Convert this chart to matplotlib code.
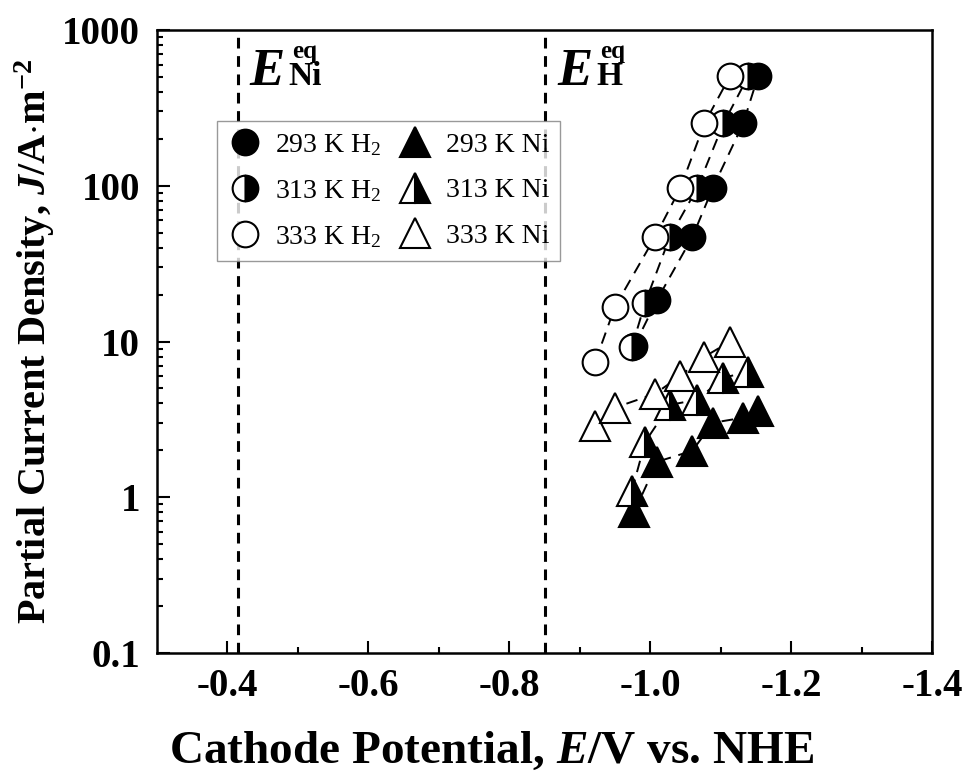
import matplotlib
matplotlib.use('Agg')
import matplotlib.pyplot as plt
from matplotlib.lines import Line2D
from matplotlib.ticker import LogLocator, NullFormatter

plt.rcParams['font.family'] = 'Liberation Serif'
plt.rcParams['mathtext.fontset'] = 'custom'
plt.rcParams['mathtext.rm'] = 'Liberation Serif'
plt.rcParams['mathtext.it'] = 'Liberation Serif:italic'
plt.rcParams['mathtext.bf'] = 'Liberation Serif:bold'
plt.rcParams['mathtext.bfit'] = 'Liberation Serif:italic:bold'

# cathode potential, V vs. NHE
e_293 = [-0.977, -1.010, -1.060, -1.089, -1.132, -1.153]
e_313 = [-0.974, -0.993, -1.028, -1.067, -1.104, -1.139]
e_333 = [-0.922, -0.950, -1.007, -1.043, -1.077, -1.113]

# partial current densities, A/m2
j_h2_293 = [9.3, 18.6, 47, 97, 251, 503]
j_h2_313 = [9.2, 17.8, 47, 97, 251, 503]
j_h2_333 = [7.4, 16.7, 47, 97, 251, 503]
j_ni_293 = [0.80, 1.69, 1.99, 3.01, 3.24, 3.59]
j_ni_313 = [1.10, 2.27, 3.92, 4.23, 5.85, 6.40]
j_ni_333 = [2.88, 3.76, 4.62, 6.03, 7.98, 9.97]

# equilibrium potentials
e_eq_ni = -0.415
e_eq_h = -0.851

temps = ['293 K', '313 K', '333 K']
fills = [dict(fillstyle='full', markerfacecolor='black'),
         dict(fillstyle='right', markerfacecolor='black', markerfacecoloralt='white'),
         dict(fillstyle='full', markerfacecolor='white')]

fig = plt.figure(figsize=(9.66, 7.73), dpi=100)
ax = fig.add_axes([0.1625, 0.1552, 0.8023, 0.806])

line_kw = dict(color='black', ls=(0, (6, 4)), lw=1.4, markeredgecolor='black', markeredgewidth=1.5)

for e, j, f in zip([e_293, e_313, e_333], [j_h2_293, j_h2_313, j_h2_333], fills):
    ax.plot(e, j, marker='o', ms=18.5, **f, **line_kw)
for e, j, f in zip([e_293, e_313, e_333], [j_ni_293, j_ni_313, j_ni_333], fills):
    ax.plot(e, j, marker='^', ms=22, **f, **line_kw)

ax.axvline(e_eq_ni, color='black', ls=(0, (3.5, 2.5)), lw=2.2, zorder=1)
ax.axvline(e_eq_h, color='black', ls=(0, (3.5, 2.5)), lw=2.2, zorder=1)

# E^eq labels: italic E with stacked subscript and superscript
for x0, sub in [(-0.431, 'Ni'), (-0.868, 'H')]:
    ax.text(x0, 441, 'E', fontsize=38, fontweight='bold', fontstyle='italic', va='baseline', ha='left')
    ax.annotate(sub, xy=(x0, 441), xytext=(28, 0), textcoords='offset points',
                fontsize=24, fontweight='bold', va='baseline', ha='left')
    ax.annotate('eq', xy=(x0, 441), xytext=(31, 20), textcoords='offset points',
                fontsize=18, fontweight='bold', va='baseline', ha='left')

ax.set_xlim(-0.3, -1.4)
ax.set_xticks([-0.4, -0.6, -0.8, -1.0, -1.2, -1.4])
ax.set_xticklabels([f'{v:.1f}' for v in [-0.4, -0.6, -0.8, -1.0, -1.2, -1.4]])
ax.set_xticks([-0.5, -0.7, -0.9, -1.1, -1.3], minor=True)

ax.set_yscale('log')
ax.set_ylim(0.1, 1000)
ax.set_yticks([0.1, 1, 10, 100, 1000])
ax.set_yticklabels(['0.1', '1', '10', '100', '1000'])
ax.yaxis.set_minor_locator(LogLocator(base=10, subs=range(2, 10)))
ax.yaxis.set_minor_formatter(NullFormatter())

ax.tick_params(which='both', direction='in', top=False, right=False, width=1.5)
ax.tick_params(which='major', length=9, labelsize=28)
ax.tick_params(axis='x', which='major', pad=11)
ax.tick_params(axis='y', which='major', pad=12)
ax.tick_params(which='minor', length=4.5)
for lab in ax.get_xticklabels() + ax.get_yticklabels():
    lab.set_fontweight('bold')
for sp in ax.spines.values():
    sp.set_linewidth(1.8)

ax.set_xlabel(r'Cathode Potential, $\mathbfit{E}$/V vs. NHE', fontsize=34, fontweight='bold')
ax.xaxis.set_label_coords(0.432, -0.124)
ax.set_ylabel(r'Partial Current Density, $\mathbfit{J}$/A$\mathbf{\cdot}$m$^{\mathbf{-2}}$',
              fontsize=29, fontweight='bold')
ax.yaxis.set_label_coords(-0.129, 0.5)

# marker-only legend entries, H2 column then Ni column
handles = []
labels = []
for t, f in zip(temps, fills):
    handles.append(Line2D([], [], ls='none', marker='o', ms=18.5, markeredgecolor='black', markeredgewidth=1.5, **f))
    labels.append(t + r' H$_\mathrm{2}$')
for t, f in zip(temps, fills):
    handles.append(Line2D([], [], ls='none', marker='^', ms=22, markeredgecolor='black', markeredgewidth=1.5, **f))
    labels.append(t + ' Ni')
leg = ax.legend(handles, labels, ncol=2, loc='upper left', bbox_to_anchor=(0.0774, 0.854),
                borderaxespad=0, fontsize=20, frameon=True, fancybox=False, edgecolor='#808080',
                handlelength=1.2, handletextpad=0.5, columnspacing=0.6, labelspacing=0.72,
                borderpad=0.4)
leg.get_frame().set_linewidth(1.0)

fig.savefig('out.png', dpi=100)
